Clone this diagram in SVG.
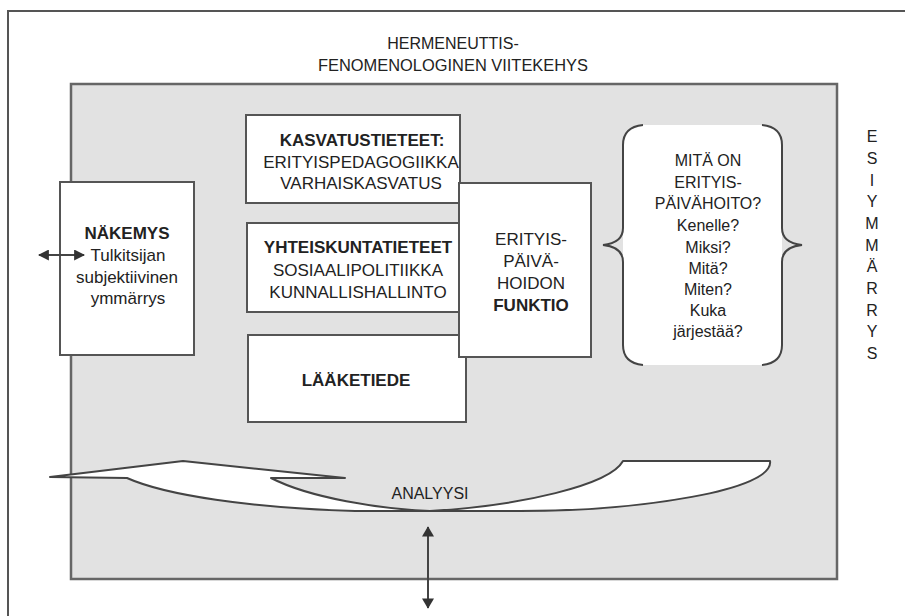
<svg xmlns="http://www.w3.org/2000/svg" width="905" height="616" viewBox="0 0 905 616">
<defs>
<style>
text{font-family:"Liberation Sans",Arial,Helvetica,sans-serif;fill:#222;text-anchor:middle;}
.t{font-size:16px;}
.q{font-size:16px;}
.b{font-size:17px;}
.bb{font-size:17px;font-weight:bold;}
.box{fill:#fff;stroke:#555;stroke-width:2;}
.ln{fill:none;stroke:#444;stroke-width:2;}
.cres{fill:#fff;stroke:#444;stroke-width:2;stroke-linejoin:round;}
</style>
<marker id="ah" viewBox="0 0 10 10" refX="9" refY="5" markerWidth="11" markerHeight="11" markerUnits="userSpaceOnUse" orient="auto-start-reverse">
<path d="M0,0 L10,5 L0,10 Z" fill="#333"/>
</marker>
<marker id="ah2" viewBox="0 0 12 14" refX="11" refY="7" markerWidth="14" markerHeight="12" markerUnits="userSpaceOnUse" orient="auto-start-reverse">
<path d="M0,0 L12,7 L0,14 Z" fill="#333"/>
</marker>
</defs>
<rect width="905" height="616" fill="#fff"/>
<g id="frame">
<rect x="8" y="11" width="1000" height="1000" fill="none" stroke="#555" stroke-width="2"/>
<text class="t" x="453" y="49">HERMENEUTTIS-</text>
<text class="t" x="453" y="71" textLength="270" lengthAdjust="spacingAndGlyphs">FENOMENOLOGINEN VIITEKEHYS</text>
</g>
<g id="panel">
<rect x="71" y="84" width="766" height="495" fill="#e2e2e2" stroke="#666" stroke-width="2.5"/>
</g>
<g id="kasvatustieteet">
<rect class="box" x="246" y="115" width="214" height="88"/>
<text class="bb" x="362" y="146">KASVATUSTIETEET:</text>
<text class="b" x="361" y="168">ERITYISPEDAGOGIIKKA</text>
<text class="b" x="361" y="189">VARHAISKASVATUS</text>
</g>
<g id="yhteiskuntatieteet">
<rect class="box" x="247" y="223" width="213" height="89"/>
<text class="bb" x="358" y="253">YHTEISKUNTATIETEET</text>
<text class="b" x="358" y="276">SOSIAALIPOLITIIKKA</text>
<text class="b" x="358" y="298">KUNNALLISHALLINTO</text>
</g>
<g id="laaketiede">
<rect class="box" x="248" y="335" width="218" height="87"/>
<text class="bb" x="356" y="386">LÄÄKETIEDE</text>
</g>
<g id="funktio">
<rect class="box" x="459" y="183" width="132" height="174"/>
<text class="b" x="531" y="245">ERITYIS-</text>
<text class="b" x="531" y="267">PÄIVÄ-</text>
<text class="b" x="531" y="289">HOIDON</text>
<text class="bb" x="531" y="311">FUNKTIO</text>
</g>
<g id="nakemys">
<rect class="box" x="60" y="182" width="134" height="173"/>
<text class="bb" x="127" y="239">NÄKEMYS</text>
<text class="b" x="128" y="261">Tulkitsijan</text>
<text class="b" x="127" y="283">subjektiivinen</text>
<text class="b" x="128" y="304">ymmärrys</text>
</g>
<g id="kysymykset">
<path d="M643,125 L762,125 Q782,127 782,145 L782,345 Q782,363 762,365 L643,365 Q623,363 623,345 L623,145 Q623,127 643,125 Z" fill="#fff"/>
<path class="ln" d="M643,125 Q623,127 623,145 L623,228 Q623,243 603,245 Q623,247 623,262 L623,345 Q623,363 643,365"/>
<path class="ln" d="M762,125 Q782,127 782,145 L782,228 Q782,243 802,245 Q782,247 782,262 L782,345 Q782,363 762,365"/>
<text class="q" x="708" y="166">MITÄ ON</text>
<text class="q" x="708" y="188">ERITYIS-</text>
<text class="q" x="708" y="209">PÄIVÄHOITO?</text>
<text class="q" x="708" y="231">Kenelle?</text>
<text class="q" x="708" y="253">Miksi?</text>
<text class="q" x="708" y="274">Mitä?</text>
<text class="q" x="708" y="295">Miten?</text>
<text class="q" x="708" y="316">Kuka</text>
<text class="q" x="708" y="337">järjestää?</text>
</g>
<g id="esiymmarrys">
<text class="t" x="872" y="142">E</text>
<text class="t" x="872" y="164">S</text>
<text class="t" x="872" y="186">I</text>
<text class="t" x="872" y="207">Y</text>
<text class="t" x="872" y="229">M</text>
<text class="t" x="872" y="251">M</text>
<text class="t" x="872" y="272">Ä</text>
<text class="t" x="872" y="294">R</text>
<text class="t" x="872" y="316">R</text>
<text class="t" x="872" y="337">Y</text>
<text class="t" x="872" y="359">S</text>
</g>
<g id="analyysi">
<path class="cres" d="M50,477 L183,461 L345,478 L271,478 C310,498 380,509 430,511 L355,511 C250,508 165,495 127,478 Z"/>
<path class="cres" d="M623,461 L770,461 C775,490 640,511 520,511 L430,511 C520,506 610,485 623,461 Z"/>
<text x="430" y="499" style="font-size:16px">ANALYYSI</text>
</g>
<g id="connectors">
<line class="ln" x1="39" y1="255" x2="84" y2="255" marker-start="url(#ah)" marker-end="url(#ah)"/>
<line class="ln" x1="428" y1="527" x2="428" y2="608" marker-start="url(#ah2)" marker-end="url(#ah2)"/>
</g>
</svg>
